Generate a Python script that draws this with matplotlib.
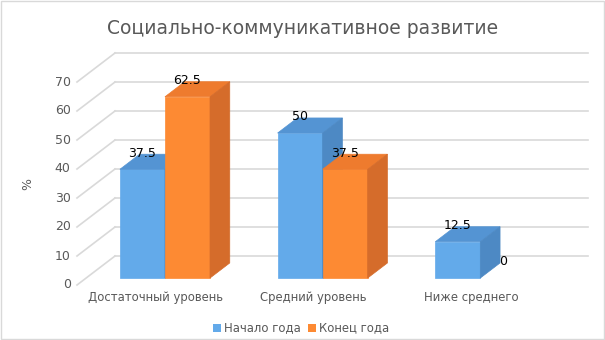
import matplotlib
matplotlib.use('Agg')
import matplotlib.pyplot as plt
from matplotlib.patches import Polygon, Rectangle

categories = ['Достаточный уровень', 'Средний уровень', 'Ниже среднего']
start_year = [37.5, 50, 12.5]
end_year = [62.5, 37.5, 0]
series_names = ['Начало года', 'Конец года']
y_ticks = [0, 10, 20, 30, 40, 50, 60, 70]

# colours: front, top, side
blue = ('#63aaea', '#5494d3', '#4d89c4')
orange = ('#fd8a33', '#ee7b2e', '#d56c2b')
grid_c = '#d9d9d9'
text_c = '#595959'

# 3D look: depth vector in data units (category units, value units)
DX, DY = 0.241, 10.0
F0, F1 = 0.24, 0.76          # bar front/back depth fraction
W = 1 / 3.5                  # bar width (gap width 150%)

fig = plt.figure(figsize=(6.05, 3.4), dpi=100)
ax = fig.add_axes([0, 0, 1, 1])
# pixel mapping: x 77px -> 0, 157.67px per category; y 55px (from bottom) -> 0, 2.9px per unit
px_cat, px_val = 157.67, 2.9
ax.set_xlim(-77 / px_cat, (605 - 77) / px_cat)
ax.set_ylim(-55 / px_val, (340 - 55) / px_val)
ax.axis('off')

n = len(categories)

# back wall gridlines and side wall diagonals
for v in y_ticks:
    ax.plot([DX, n + DX], [v + DY, v + DY], color=grid_c, lw=1.2, zorder=1)
    ax.plot([0, DX], [v, v + DY], color=grid_c, lw=1.2, zorder=1)
    ax.text(-0.04, v, str(v), ha='right', va='center', fontsize=9, color=text_c)

ax.text(-0.31, 35, '%', rotation=90, ha='center', va='center', fontsize=9, color=text_c)

for i, cat in enumerate(categories):
    ax.text(i + 0.5, -4.2, cat, ha='center', va='center', fontsize=8.4, color=text_c)


def draw_bar(x0, v, cols):
    x1 = x0 + W
    fx, fy = F0 * DX, F0 * DY
    bx, by = F1 * DX, F1 * DY
    if v > 0:
        front = [(x0 + fx, fy), (x1 + fx, fy), (x1 + fx, v + fy), (x0 + fx, v + fy)]
        top = [(x0 + fx, v + fy), (x1 + fx, v + fy), (x1 + bx, v + by), (x0 + bx, v + by)]
        side = [(x1 + fx, fy), (x1 + bx, by), (x1 + bx, v + by), (x1 + fx, v + fy)]
        for pts, c in ((front, cols[0]), (top, cols[1]), (side, cols[2])):
            ax.add_patch(Polygon(pts, closed=True, facecolor=c, edgecolor=c, lw=0.5, zorder=3))
    ax.text((x0 + x1) / 2 + fx, v + fy + 5.6, f'{v:g}', ha='center', va='center',
            fontsize=9, color='black', zorder=5)


for i in range(n):
    base = i + 0.5 - W
    draw_bar(base, start_year[i], blue)
    draw_bar(base + W, end_year[i], orange)

# title
fig.text(0.5, 1 - 29 / 340, 'Социально-коммуникативное развитие', ha='center', va='center',
         fontsize=13.5, color=text_c)

# legend
leg_y = 1 - 328 / 340
items = [(213, blue[0], series_names[0]), (308, orange[0], series_names[1])]
for x, c, lbl in items:
    fig.patches.append(Rectangle((x / 605, leg_y - 4 / 340), 8 / 605, 8 / 340,
                                 transform=fig.transFigure, facecolor=c, edgecolor='none'))
    fig.text((x + 11) / 605, leg_y, lbl, ha='left', va='center', fontsize=8.4, color=text_c)

# chart border
fig.patches.append(Rectangle((0.001, 0.002), 0.997, 0.995, transform=fig.transFigure,
                             facecolor='none', edgecolor=grid_c, lw=1))

fig.savefig('out.png', dpi=100)
